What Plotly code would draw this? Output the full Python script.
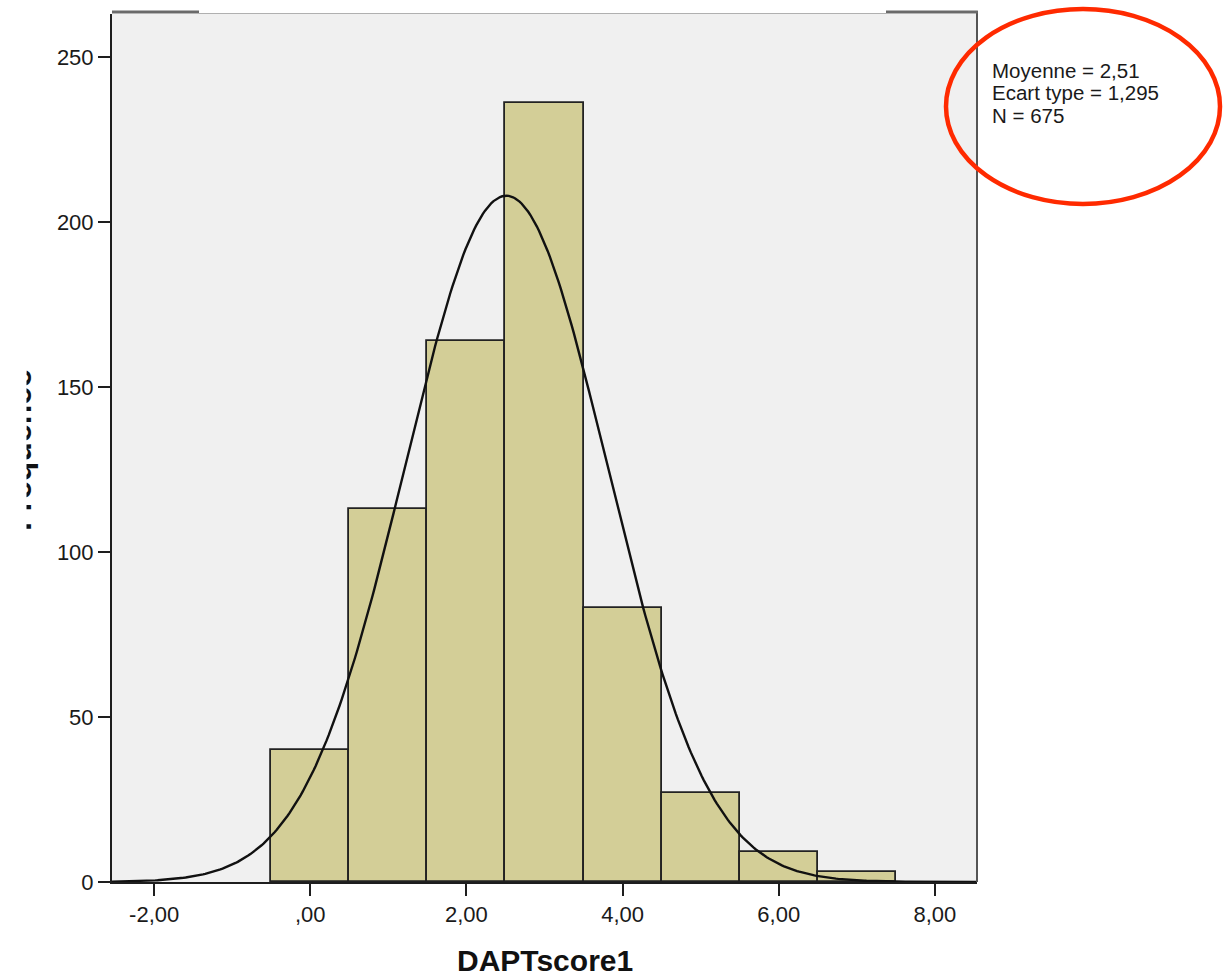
import numpy as np
import plotly.graph_objects as go

# Histogram of DAPTscore1 (bins of width 1 centred on integers)
bin_centers = [0, 1, 2, 3, 4, 5, 6, 7]
counts = [40, 113, 164, 236, 83, 27, 9, 3]
bin_width = 1.0

# Summary statistics shown in the side box
mean_val = 2.51
sd_val = 1.295
n_val = 675

x_tickvals = [-2, 0, 2, 4, 6, 8]
x_ticktext = ["-2,00", ",00", "2,00", "4,00", "6,00", "8,00"]
y_tickvals = [0, 50, 100, 150, 200, 250]

x_range = [-2.54, 8.54]
y_range = [0, 263]

# Fitted normal curve scaled to counts
xs = np.linspace(x_range[0], x_range[1], 400)
ys = n_val * bin_width / (sd_val * np.sqrt(2 * np.pi)) * np.exp(-0.5 * ((xs - mean_val) / sd_val) ** 2)

FONT = "Liberation Sans, Arial, sans-serif"

fig = go.Figure()
fig.add_trace(go.Bar(
    x=bin_centers, y=counts, width=bin_width,
    marker=dict(color="#D3CE97", line=dict(color="#222222", width=1.8)),
    hoverinfo="x+y",
))
fig.add_trace(go.Scatter(
    x=xs, y=ys, mode="lines",
    line=dict(color="#111111", width=2.4),
    hoverinfo="skip",
))

L, R, T, B = 112, 254, 14, 94
W, H = 1231, 976
pw, ph = W - L - R, H - T - B


def px_x(px):
    return (px - L) / pw


def px_y(py):
    return (H - B - py) / ph


fig.update_layout(
    width=W, height=H,
    margin=dict(l=L, r=R, t=T, b=B, pad=0),
    paper_bgcolor="white",
    plot_bgcolor="#F0F0F0",
    showlegend=False,
    bargap=0,
    font=dict(family=FONT, color="#1a1a1a"),
    xaxis=dict(
        range=x_range, tickvals=x_tickvals, ticktext=x_ticktext,
        showgrid=False, zeroline=False, automargin=False,
        showline=True, linecolor="#1e1e1e", linewidth=2,
        ticks="outside", ticklen=12, tickwidth=2, tickcolor="#1e1e1e",
        tickfont=dict(size=22, family=FONT, color="#1a1a1a"),
    ),
    yaxis=dict(
        range=y_range, tickvals=y_tickvals,
        showgrid=False, zeroline=False, automargin=False,
        showline=True, linecolor="#1e1e1e", linewidth=2,
        ticks="outside", ticklen=12, tickwidth=2, tickcolor="#1e1e1e",
        tickfont=dict(size=22, family=FONT, color="#1a1a1a"),
    ),
)

shapes = [
    # right frame edge
    dict(type="line", xref="paper", yref="paper", x0=1, x1=1, y0=0, y1=px_y(11),
         line=dict(color="#555555", width=2)),
    # top frame edge
    dict(type="line", xref="paper", yref="paper", x0=0, x1=1.001, y0=px_y(12), y1=px_y(12),
         line=dict(color="#6a6a6a", width=3)),
    # white title panel over the top edge
    dict(type="rect", xref="paper", yref="paper", x0=px_x(199), x1=px_x(886),
         y0=px_y(13.5), y1=px_y(-5), fillcolor="white", line=dict(width=0)),
    dict(type="line", xref="paper", yref="paper", x0=px_x(199), x1=px_x(886),
         y0=px_y(13.5), y1=px_y(13.5), line=dict(color="#b0b0b0", width=1)),
    # red ellipse around the statistics
    dict(type="circle", xref="paper", yref="paper", x0=px_x(946), x1=px_x(1220),
         y0=px_y(204), y1=px_y(9), line=dict(color="#FF2A00", width=4.5),
         fillcolor="rgba(0,0,0,0)"),
]
fig.update_layout(shapes=shapes)

stats_lines = [
    (f"Moyenne = {str(mean_val).replace('.', ',')}", 70),
    (f"Ecart type = {str(sd_val).replace('.', ',')}", 93),
    (f"N = {n_val}", 116),
]
annotations = []
for text, py in stats_lines:
    annotations.append(dict(
        text=text, xref="paper", yref="paper", x=px_x(991), y=px_y(py),
        xanchor="left", yanchor="middle", showarrow=False,
        borderpad=0,
        font=dict(size=20.5, family=FONT, color="#1a1a1a"),
    ))

# x-axis title
annotations.append(dict(
    text="<b>DAPTscore1</b>", xref="paper", yref="paper", x=0.5, y=px_y(960),
    xanchor="center", yanchor="middle", showarrow=False,
    font=dict(size=30, family=FONT, color="#111111"),
))
# y-axis title (partly hidden at the page edge)
annotations.append(dict(
    text="<b>Fréquence</b>", xref="paper", yref="paper", x=px_x(40), y=px_y(450),
    xanchor="right", yanchor="middle", textangle=-90, showarrow=False,
    font=dict(size=32, family=FONT, color="#111111"),
))
annotations.append(dict(
    text=" ", xref="paper", yref="paper", x=px_x(-2), y=px_y(450),
    xanchor="left", yanchor="middle", showarrow=False,
    width=27, height=220, bgcolor="white", borderpad=0,
))
fig.update_layout(annotations=annotations)

fig.write_html("out.html")
